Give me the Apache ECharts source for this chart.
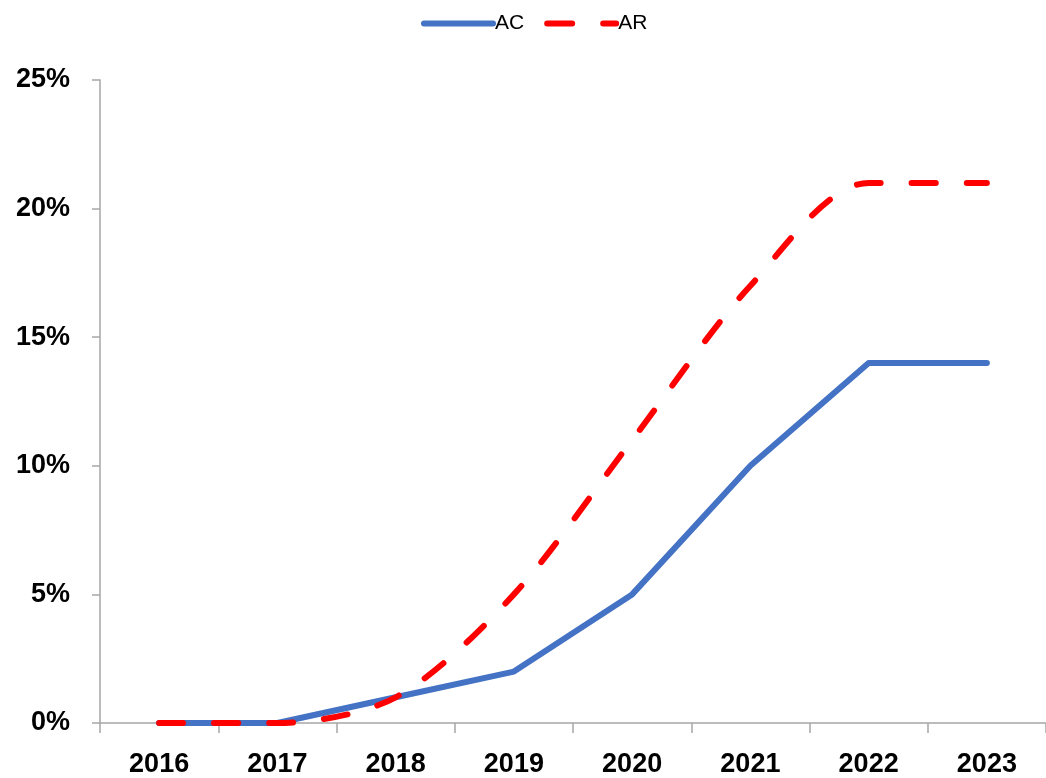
<!DOCTYPE html>
<html>
<head>
<meta charset="utf-8">
<script src="https://cdn.jsdelivr.net/npm/echarts@6/dist/echarts.min.js"></script>
<style>
  html, body { margin: 0; padding: 0; background: #fff; }
  #chart { width: 1046px; height: 778px; }
</style>
</head>
<body>
<div id="chart"></div>
<script>
const years = ["2016", "2017", "2018", "2019", "2020", "2021", "2022", "2023"];
const acValues = [0, 0, 1, 2, 5, 10, 14, 14];
const arValues = [0, 0, 1, 5, 11, 17, 21, 21];

const myChart = echarts.init(document.getElementById("chart"));
const option = {
  animation: false,
  textStyle: { fontFamily: "Liberation Sans" },
  legend: {
    top: 8,
    left: 416,
    itemWidth: 75,
    itemHeight: 6,
    itemGap: 20,
    textStyle: { fontSize: 21, color: "#000", padding: [0, 0, 0, -6] },
    data: [
      { name: "AC", icon: "path://M3,0 H72 A3,3 0 0 1 72,6 H3 A3,3 0 0 1 3,0 Z" },
      { name: "AR", icon: "path://M3,0 H28 A3,3 0 0 1 28,6 H3 A3,3 0 0 1 3,0 Z M59,0 H72 A3,3 0 0 1 72,6 H59 A3,3 0 0 1 59,0 Z" }
    ]
  },
  grid: {
    left: 100,
    right: 0,
    top: 80,
    bottom: 54
  },
  xAxis: {
    type: "category",
    data: years,
    boundaryGap: true,
    axisLine: { lineStyle: { color: "#a6a6a6", width: 1.5 } },
    axisTick: { show: true, length: 10, lineStyle: { color: "#a6a6a6", width: 1.5 } },
    axisLabel: { fontSize: 27, fontWeight: "bold", color: "#000", margin: 28 }
  },
  yAxis: {
    type: "value",
    min: 0,
    max: 25,
    interval: 5,
    splitLine: { show: false },
    axisLine: { show: true, lineStyle: { color: "#a6a6a6", width: 1.5 } },
    axisTick: { show: true, length: 8, lineStyle: { color: "#a6a6a6", width: 1.5 } },
    axisLabel: { fontSize: 27, fontWeight: "bold", color: "#000", margin: 30, formatter: "{value}%" }
  },
  series: [
    {
      name: "AC",
      type: "line",
      data: acValues,
      symbol: "none",
      lineStyle: { color: "#4472C4", width: 6, cap: "round", join: "round" },
      itemStyle: { color: "#4472C4" },
      z: 2
    },
    {
      name: "AR",
      type: "line",
      data: arValues,
      symbol: "none",
      smooth: 0.3,
      lineStyle: { color: "#FF0000", width: 6, type: [24, 31], cap: "round", join: "round" },
      itemStyle: { color: "#FF0000" },
      z: 3
    }
  ]
};
myChart.setOption(option);
</script>
</body>
</html>
